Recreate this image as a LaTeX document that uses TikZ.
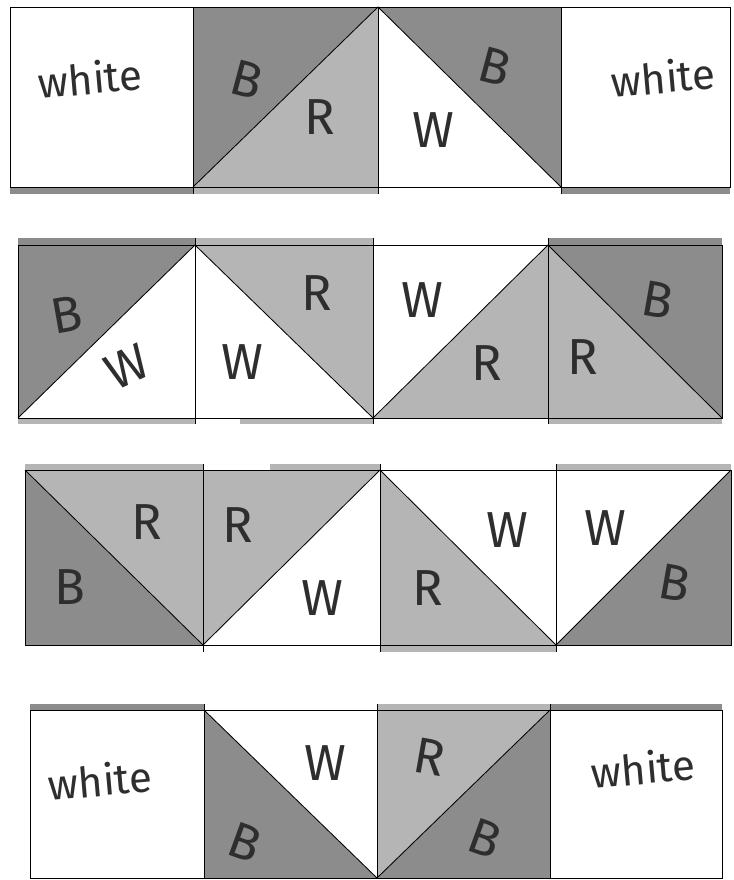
\documentclass[tikz,border=0pt]{standalone}
\usepackage{fontspec}
\setmainfont{Fira Sans}
\usepackage{xcolor}
\usetikzlibrary{positioning}
\definecolor{patchB}{gray}{0.55}
\definecolor{patchR}{gray}{0.71}
\definecolor{ink}{gray}{0.18}

\begin{document}
\begin{tikzpicture}[x=0.25mm, y=-0.25mm, line width=0.6pt,
  bpatch/.style={fill=patchB}, rpatch/.style={fill=patchR},
  letter/.style={text=ink, font=\fontsize{36}{36}\selectfont},
  word/.style={text=ink, font=\fontsize{30}{30}\selectfont, rotate=5}]
  \fill[white] (0,0) rectangle (733,880);
  \useasboundingbox (0,0) rectangle (733,880);

  % edges of the neighbouring rows
  \foreach \xa/\xb/\c in {10/193/patchB, 193/378/patchR, 561/730/patchB}
    \fill[\c] (\xa,187) rectangle (\xb,194);
  \foreach \xa/\xb/\c in {18/195/patchB, 195/373/patchR, 548/722/patchB}
    \fill[\c] (\xa,238) rectangle (\xb,245);
  \foreach \xa/\xb/\c in {18/195/patchR, 240/373/patchR, 548/722/patchR}
    \fill[\c] (\xa,418) rectangle (\xb,424);
  \foreach \xa/\xb/\c in {25/203/patchR, 270/380/patchR, 556/731/patchR}
    \fill[\c] (\xa,464) rectangle (\xb,470);
  \fill[patchR] (380,645) rectangle (556,652);
  \foreach \xa/\xb/\c in {30/204/patchB, 377/550/patchR, 550/722/patchB}
    \fill[\c] (\xa,704) rectangle (\xb,710);

  % row 1
  \fill[bpatch] (193,7) -- (378,7) -- (193,187) -- cycle;
  \fill[rpatch] (378,7) -- (378,187) -- (193,187) -- cycle;
  \fill[bpatch] (378,7) -- (561,7) -- (561,187) -- cycle;
  \draw (10,7) rectangle (730,187);
  \foreach \x in {193,378,561} \draw (\x,7) -- (\x,194);
  \draw (193,187) -- (378,7) -- (561,187);
  \node[word] (white11) at (90,78) {white};
  \node[letter, rotate=-15] (b12) at (247,80) {B};
  \node[letter] (r12) at (320,117) {R};
  \node[letter] (w13) at (433,130) {W};
  \node[letter, rotate=-15] (b13) at (495,67) {B};
  \node[word] (white14) at (663,77) {white};

  % row 2
  \fill[bpatch] (18,245) -- (195,245) -- (18,418) -- cycle;
  \fill[rpatch] (195,245) -- (373,245) -- (373,418) -- cycle;
  \fill[rpatch] (373,418) -- (548,245) -- (548,418) -- cycle;
  \fill[rpatch] (548,245) -- (722,418) -- (548,418) -- cycle;
  \fill[bpatch] (548,245) -- (722,245) -- (722,418) -- cycle;
  \draw (18,245) rectangle (722,418);
  \foreach \x in {195,373,548} \draw (\x,238) -- (\x,424);
  \draw (18,418) -- (195,245) -- (373,418) -- (548,245) -- (722,418);
  \node[letter, rotate=10] (b21) at (67,315) {B};
  \node[letter, rotate=25] (w21) at (127,367) {W};
  \node[letter] (w22) at (242,362) {W};
  \node[letter] (r22) at (317,293) {R};
  \node[letter] (w23) at (422,300) {W};
  \node[letter] (r23) at (487,363) {R};
  \node[letter] (r24) at (583,357) {R};
  \node[letter, rotate=-10] (b24) at (658,300) {B};

  % row 3
  \fill[rpatch] (25,470) -- (203,470) -- (203,645) -- cycle;
  \fill[bpatch] (25,470) -- (203,645) -- (25,645) -- cycle;
  \fill[rpatch] (203,470) -- (380,470) -- (203,645) -- cycle;
  \fill[rpatch] (380,470) -- (556,645) -- (380,645) -- cycle;
  \fill[bpatch] (731,470) -- (731,645) -- (556,645) -- cycle;
  \draw (25,470) rectangle (731,645);
  \foreach \x in {203,380,556} \draw (\x,464) -- (\x,652);
  \draw (25,470) -- (203,645) -- (380,470) -- (556,645) -- (731,470);
  \node[letter] (r31) at (147,522) {R};
  \node[letter] (b31) at (70,587) {B};
  \node[letter] (r32) at (238,525) {R};
  \node[letter] (w32) at (322,598) {W};
  \node[letter] (r33) at (428,588) {R};
  \node[letter] (w33) at (507,530) {W};
  \node[letter] (w34) at (605,528) {W};
  \node[letter, rotate=-10] (b34) at (675,583) {B};

  % row 4
  \fill[bpatch] (204,710) -- (377,878) -- (204,878) -- cycle;
  \fill[rpatch] (377,710) -- (550,710) -- (377,878) -- cycle;
  \fill[bpatch] (550,710) -- (550,878) -- (377,878) -- cycle;
  \draw (30,710) rectangle (722,878);
  \foreach \x in {204,377,550} \draw (\x,704) -- (\x,878);
  \draw (204,710) -- (377,878) -- (550,710);
  \node[word] (white41) at (100,780) {white};
  \node[letter] (w42) at (325,763) {W};
  \node[letter, rotate=-20] (b42) at (245,842) {B};
  \node[letter, rotate=-10] (r43) at (430,757) {R};
  \node[letter, rotate=-20] (b43) at (485,838) {B};
  \node[word] (white44) at (643,768) {white};
\end{tikzpicture}
\end{document}
